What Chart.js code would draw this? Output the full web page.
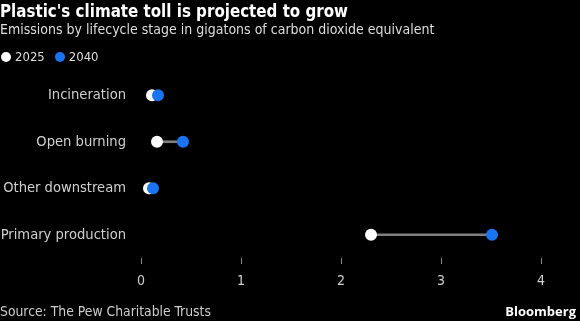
<!DOCTYPE html>
<html>
<head>
<meta charset="utf-8">
<script src="https://cdn.jsdelivr.net/npm/chart.js@4"></script>
<style>
  html, body { margin: 0; padding: 0; background: #000; }
  body { width: 580px; height: 321px; position: relative; overflow: hidden; font-family: "DejaVu Sans Condensed", "DejaVu Sans", sans-serif; }
  #title { position: absolute; left: 0; top: 1px; color: #fff; font-weight: bold; font-size: 16.8px; white-space: nowrap; }
  #subtitle { position: absolute; left: 0; top: 21px; color: #ddd; font-size: 14px; white-space: nowrap; }
  #legend { position: absolute; left: 1px; top: 49px; color: #ddd; font-size: 13px; white-space: nowrap; }
  #legend span.dot { display: inline-block; width: 10px; height: 10px; border-radius: 50%; vertical-align: -1px; margin-right: 4px; }
  #legend span.item { margin-right: 10px; }
  #source { position: absolute; left: 0; top: 303px; color: #ccc; font-size: 13.8px; white-space: nowrap; }
  #brand { position: absolute; right: 4px; top: 302px; color: #fff; font-weight: bold; font-size: 13px; font-family: "Open Sans", sans-serif; }
  #wrap { position: absolute; left: 0; top: 0; width: 580px; height: 321px; }
</style>
</head>
<body>
<div id="wrap"><canvas id="chart"></canvas></div>
<div id="title">Plastic's climate toll is projected to grow</div>
<div id="subtitle">Emissions by lifecycle stage in gigatons of carbon dioxide equivalent</div>
<div id="legend"><span class="item"><span class="dot" style="background:#fff"></span>2025</span><span class="item"><span class="dot" style="background:#1a73f0"></span>2040</span></div>
<div id="source">Source: The Pew Charitable Trusts</div>
<div id="brand">Bloomberg</div>
<script>
const categories = ['Incineration', 'Open burning', 'Other downstream', 'Primary production'];
const values2025 = [0.11, 0.16, 0.08, 2.30];
const values2040 = [0.17, 0.42, 0.12, 3.51];
const xTicks = [0, 1, 2, 3, 4];

const white = '#ffffff';
const blue = '#1a73f0';
const labelColor = '#cfcfcf';
const fontFamily = '"DejaVu Sans Condensed", "DejaVu Sans", sans-serif';

new Chart(document.getElementById('chart'), {
    data: {
        labels: categories,
        datasets: [
            {
                type: 'scatter',
                label: '2040',
                data: categories.map((c, i) => ({ x: values2040[i], y: c })),
                backgroundColor: blue,
                borderWidth: 0,
                pointRadius: 6,
                order: 0,
            },
            {
                type: 'scatter',
                label: '2025',
                data: categories.map((c, i) => ({ x: values2025[i], y: c })),
                backgroundColor: white,
                borderWidth: 0,
                pointRadius: 6,
                order: 1,
            },
            {
                type: 'bar',
                label: 'range',
                data: categories.map((c, i) => [values2025[i], values2040[i]]),
                backgroundColor: '#808080',
                barThickness: 2,
                order: 2,
            },
        ],
    },
    options: {
        indexAxis: 'y',
        responsive: true,
        maintainAspectRatio: false,
        animation: false,
        layout: { padding: { top: 72, right: 39, left: 0, bottom: 0 } },
        plugins: {
            legend: { display: false },
            tooltip: { enabled: false },
        },
        scales: {
            y: {
                type: 'category',
                labels: categories,
                offset: true,
                grid: { display: false, drawTicks: false },
                border: { display: false },
                ticks: { color: labelColor, font: { family: fontFamily, size: 14.6 }, padding: 15 },
                afterFit: (scale) => { scale.width = 141; },
            },
            x: {
                type: 'linear',
                min: 0,
                max: 4,
                afterBuildTicks: (scale) => { scale.ticks = xTicks.map(v => ({ value: v })); },
                grid: { drawOnChartArea: false, drawTicks: true, tickLength: 6, color: '#888', tickWidth: 1 },
                border: { display: false },
                ticks: { color: labelColor, font: { family: fontFamily, size: 14 }, padding: 9 },
                afterFit: (scale) => { scale.height = 63; },
            },
        },
    },
});
</script>
</body>
</html>
